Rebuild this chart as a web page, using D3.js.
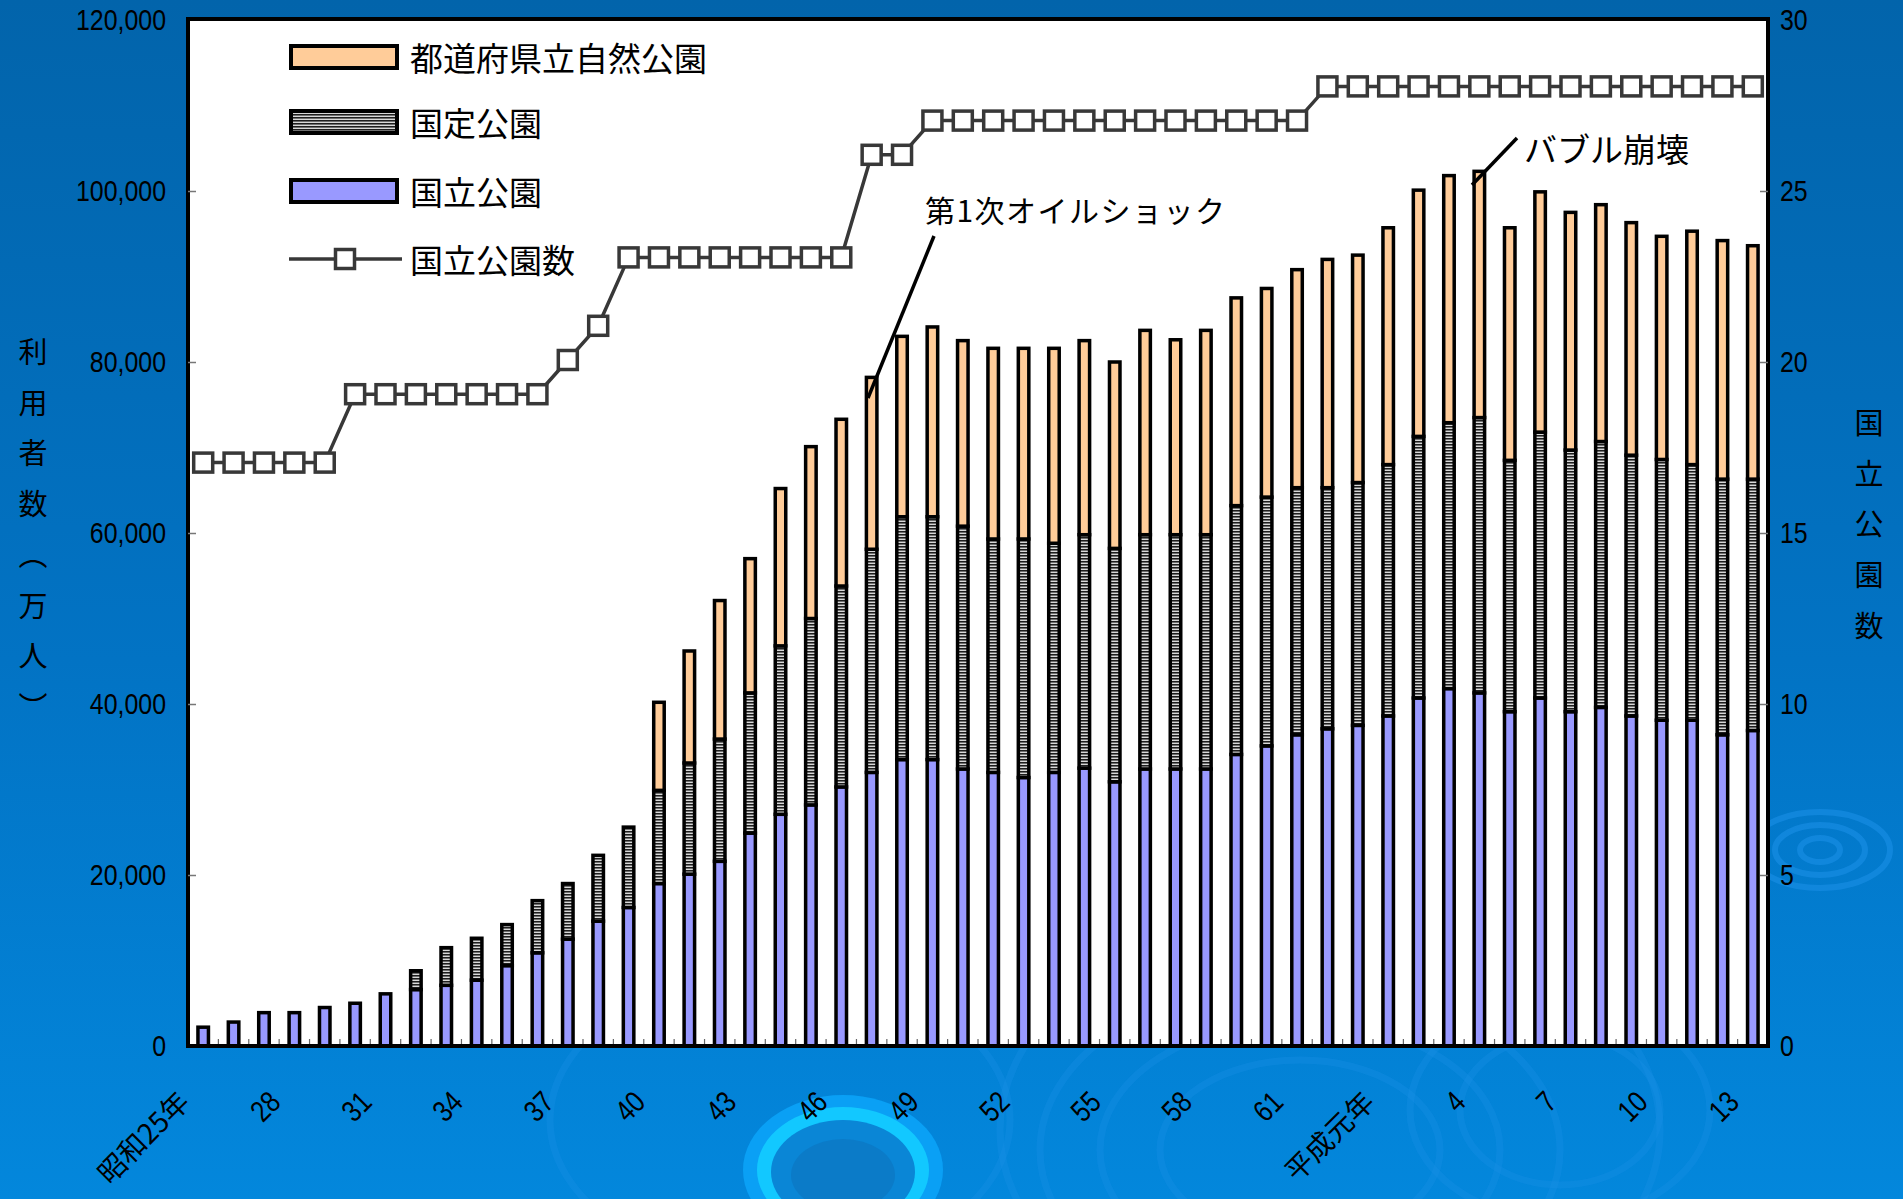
<!DOCTYPE html>
<html><head><meta charset="utf-8">
<script src="https://cdn.jsdelivr.net/npm/d3@7"></script>
<style>
html,body{margin:0;padding:0;background:#0270bf;}
svg{display:block;}
.num{font-family:"Liberation Sans Narrow","Arial Narrow","Liberation Sans",sans-serif;}
.jp{font-family:"Noto Sans CJK JP","Noto Sans CJK SC",sans-serif;}
</style></head>
<body>
<svg id="chart" width="1903" height="1199"></svg>
<script>
// ---- data (万人) ----
const categories = ["昭和25年","26","27","28","29","30","31","32","33","34","35","36","37","38","39","40","41","42","43","44","45","46","47","48","49","50","51","52","53","54","55","56","57","58","59","60","61","62","63","平成元年","2","3","4","5","6","7","8","9","10","11","12","13"];
const kokuritsu = [2200,2800,3900,3900,4500,5000,6100,6600,7100,7700,9400,10900,12500,14600,16200,19000,20100,21600,24900,27100,28200,30300,32000,33500,33500,32400,32000,31400,32000,32500,30900,32400,32400,32400,34100,35100,36400,37100,37500,38600,40700,41800,41300,39100,40700,39100,39600,38600,38100,38100,36400,36900];
const kokutei = [0,0,0,0,0,0,0,2200,4400,4900,4800,6100,6500,7700,9400,10900,13000,14300,16400,19700,21800,23500,26100,28400,28400,28400,27300,27900,26800,27300,27300,27400,27400,27400,29100,29100,28900,28200,28400,29400,30600,31100,32200,29400,31100,30600,31100,30500,30500,29900,29900,29400];
const todofuken = [0,0,0,0,0,0,0,0,0,0,0,0,0,0,0,10300,13100,16200,15700,18400,20100,19500,20100,21100,22200,21700,22300,22300,22800,22700,21800,23900,22800,23900,24300,24400,25500,26700,26600,27700,28800,28900,28800,27200,28100,27800,27700,27200,26100,27300,27900,27300];
const parkCount = [17,17,17,17,17,19,19,19,19,19,19,19,20,21,23,23,23,23,23,23,23,23,26,26,27,27,27,27,27,27,27,27,27,27,27,27,27,28,28,28,28,28,28,28,28,28,28,28,28,28,28,28];
const leftTicks = [0,20000,40000,60000,80000,100000,120000];
const rightTicks = [0,5,10,15,20,25,30];
const seriesNames = {todofuken:"都道府県立自然公園", kokutei:"国定公園", kokuritsu:"国立公園", count:"国立公園数"};
const labelEvery = 3;

const svg = d3.select("#chart");
const W = 1903, H = 1199;
const M = {left:188, right:1768, top:20, bottom:1046};

// ---- background ----
const defs = svg.append("defs");
const bg = defs.append("linearGradient").attr("id","bg").attr("x1",0).attr("y1",0).attr("x2",0).attr("y2",1);
bg.append("stop").attr("offset","0").attr("stop-color","#0264ab");
bg.append("stop").attr("offset","0.55").attr("stop-color","#0273c4");
bg.append("stop").attr("offset","1").attr("stop-color","#0387dc");
svg.append("rect").attr("width",W).attr("height",H).attr("fill","url(#bg)");

// ripples (decoration)
const rip = svg.append("g");
[[1300,1150,260,170],[1300,1150,200,130],[1300,1150,140,90],[1560,1110,150,110],[1560,1110,100,75],[780,1120,230,150],[1330,1130,330,220]].forEach(r=>{
  rip.append("ellipse").attr("cx",r[0]).attr("cy",r[1]).attr("rx",r[2]).attr("ry",r[3])
    .attr("fill","none").attr("stroke","#1a8fe6").attr("stroke-width",7).attr("opacity",0.35);
});
[[1820,850,70,38],[1820,850,45,25],[1820,850,20,12]].forEach(r=>{
  rip.append("ellipse").attr("cx",r[0]).attr("cy",r[1]).attr("rx",r[2]).attr("ry",r[3])
    .attr("fill","none").attr("stroke","#1a8fe6").attr("stroke-width",6).attr("opacity",0.6);
});
rip.append("ellipse").attr("cx",843).attr("cy",1170).attr("rx",100).attr("ry",75).attr("fill","#0aa0f5");
rip.append("ellipse").attr("cx",843).attr("cy",1170).attr("rx",86).attr("ry",63).attr("fill","#12c8ff");
rip.append("ellipse").attr("cx",843).attr("cy",1172).attr("rx",72).attr("ry",52).attr("fill","#0a86d6");
rip.append("ellipse").attr("cx",843).attr("cy",1175).attr("rx",52).attr("ry",36).attr("fill","#0b7bc8");

// stripe pattern
const pat = defs.append("pattern").attr("id","stripe").attr("patternUnits","userSpaceOnUse").attr("width",6).attr("height",3);
pat.append("rect").attr("width",6).attr("height",3).attr("fill","#d8d8d8");
pat.append("rect").attr("y",0).attr("width",6).attr("height",1).attr("fill","#1e1e1e");
pat.append("rect").attr("y",1).attr("width",6).attr("height",1).attr("fill","#6e6e6e");

// plot background
svg.append("rect").attr("x",M.left).attr("y",M.top).attr("width",M.right-M.left).attr("height",M.bottom-M.top).attr("fill","#fff");

// ---- scales ----
const x = d3.scaleBand().domain(categories).range([M.left, M.right]).paddingInner(0).paddingOuter(0);
const y = d3.scaleLinear().domain([0,120000]).range([M.bottom, M.top]);
const yR = d3.scaleLinear().domain([0,30]).range([M.bottom-2, M.top-2]);

const colors = {kokuritsu:"#9999ff", kokutei:"url(#stripe)", todofuken:"#ffcc99"};
const keys = ["kokuritsu","kokutei","todofuken"];
const table = categories.map((c,i)=>({cat:c, kokuritsu:kokuritsu[i], kokutei:kokutei[i], todofuken:todofuken[i]}));
const stack = d3.stack().keys(keys)(table);

const barW = 10.5;
const gBars = svg.append("g");
stack.forEach(layer=>{
  gBars.append("g").selectAll("rect")
    .data(layer.filter(d=>d[1]-d[0]>0))
    .join("rect")
    .attr("x", d=>x(d.data.cat)+x.bandwidth()/2-barW/2)
    .attr("width", barW)
    .attr("y", d=>y(d[1]))
    .attr("height", d=>y(d[0])-y(d[1]))
    .attr("fill", colors[layer.key])
    .attr("stroke","#000").attr("stroke-width",3.5);
});

// x ticks at band boundaries (inside)
const bounds = categories.map(c=>x(c)).concat([M.right]);
svg.append("g").selectAll("line").data(bounds).join("line")
  .attr("x1",d=>d).attr("x2",d=>d).attr("y1",M.bottom).attr("y2",M.bottom-7)
  .attr("stroke","#666").attr("stroke-width",1.2);

// line of park counts
const cx = c=>x(c)+x.bandwidth()/2;
const lineData = categories.map((c,i)=>({cat:c, v:parkCount[i]}));
svg.append("path").datum(lineData)
  .attr("d", d3.line().x(d=>cx(d.cat)).y(d=>yR(d.v)))
  .attr("fill","none").attr("stroke","#383838").attr("stroke-width",3.5);
const sq = 19;
svg.append("g").selectAll("rect").data(lineData).join("rect")
  .attr("x",d=>cx(d.cat)-sq/2).attr("y",d=>yR(d.v)-sq/2)
  .attr("width",sq).attr("height",sq)
  .attr("fill","#fff").attr("stroke","#383838").attr("stroke-width",3.5);

// frame
svg.append("rect").attr("x",M.left).attr("y",M.top-1).attr("width",M.right-M.left).attr("height",M.bottom-M.top+1)
  .attr("fill","none").attr("stroke","#000").attr("stroke-width",4);

// ---- axes ----
const axL = svg.append("g").attr("transform",`translate(${M.left},0)`)
  .call(d3.axisLeft(y).tickValues(leftTicks).tickSize(-8).tickPadding(22).tickFormat(d3.format(",")));
const axR = svg.append("g").attr("transform",`translate(${M.right},0)`)
  .call(d3.axisRight(yR.copy().range([M.bottom,M.top])).tickValues(rightTicks).tickSize(-8).tickPadding(12).tickFormat(d3.format("d")));
[axL,axR].forEach(a=>{
  a.select(".domain").remove();
  a.selectAll(".tick line").attr("stroke","#777").attr("stroke-width",1.5);
  a.selectAll(".tick text").attr("class","num").attr("font-size",30).attr("fill","#000");
});
axL.selectAll(".tick").filter(d=>d===0).select("line").remove();
axR.selectAll(".tick").filter(d=>d===0||d===30).select("line").remove();
axL.selectAll(".tick").filter(d=>d===120000).select("line").remove();

// x labels
svg.append("g").selectAll("text")
  .data(categories.filter((c,i)=>i%labelEvery===0))
  .join("text")
  .attr("class",d=>/[^\d]/.test(d) ? "jp" : "num")
  .attr("font-size",d=>/[^\d]/.test(d) ? 28 : 30)
  .attr("text-anchor","end")
  .attr("transform",d=>`translate(${cx(d)-12},${1104}) rotate(-45)`)
  .text(d=>d);

// condensed numerals (narrow face)
svg.selectAll("text.num").each(function(){
  const L = this.getComputedTextLength();
  d3.select(this).attr("textLength", L*0.83).attr("lengthAdjust","spacingAndGlyphs");
});

// axis titles (vertical)
const leftTitle = ["利","用","者","数","︵","万","人","︶"];
svg.append("g").selectAll("text").data(leftTitle).join("text")
  .attr("class","jp").attr("font-size",29).attr("text-anchor","middle")
  .attr("x",33).attr("y",(d,i)=>350+i*50.7).attr("dominant-baseline","central")
  .text(d=>d);
const rightTitle = ["国","立","公","園","数"];
svg.append("g").selectAll("text").data(rightTitle).join("text")
  .attr("class","jp").attr("font-size",29).attr("text-anchor","middle")
  .attr("x",1869).attr("y",(d,i)=>421+i*50.7).attr("dominant-baseline","central")
  .text(d=>d);

// ---- legend ----
const lg = svg.append("g");
const legendRows = [
  {name:seriesNames.todofuken, fill:colors.todofuken, y:57},
  {name:seriesNames.kokutei, fill:colors.kokutei, y:122},
  {name:seriesNames.kokuritsu, fill:colors.kokuritsu, y:191}
];
legendRows.forEach(r=>{
  lg.append("rect").attr("x",291).attr("y",r.y-11).attr("width",106).attr("height",22)
    .attr("fill",r.fill).attr("stroke","#000").attr("stroke-width",4);
  lg.append("text").attr("class","jp").attr("x",410).attr("y",r.y).attr("dominant-baseline","central")
    .attr("font-size",33).text(r.name);
});
lg.append("line").attr("x1",289).attr("x2",402).attr("y1",259).attr("y2",259).attr("stroke","#383838").attr("stroke-width",3.5);
lg.append("rect").attr("x",345-sq/2).attr("y",259-sq/2).attr("width",sq).attr("height",sq)
  .attr("fill","#fff").attr("stroke","#383838").attr("stroke-width",3.5);
lg.append("text").attr("class","jp").attr("x",410).attr("y",259).attr("dominant-baseline","central")
  .attr("font-size",33).text(seriesNames.count);

// ---- annotations ----
svg.append("text").attr("class","jp").attr("x",925).attr("y",209).attr("dominant-baseline","central")
  .attr("font-size",30).attr("textLength",300).text("第1次オイルショック");
svg.append("line").attr("x1",934).attr("y1",236).attr("x2",868).attr("y2",398).attr("stroke","#000").attr("stroke-width",3.5);
svg.append("text").attr("class","jp").attr("x",1524).attr("y",148).attr("dominant-baseline","central")
  .attr("font-size",33).text("バブル崩壊");
svg.append("line").attr("x1",1517).attr("y1",138).attr("x2",1472).attr("y2",185).attr("stroke","#000").attr("stroke-width",3.5);
</script>
</body></html>
